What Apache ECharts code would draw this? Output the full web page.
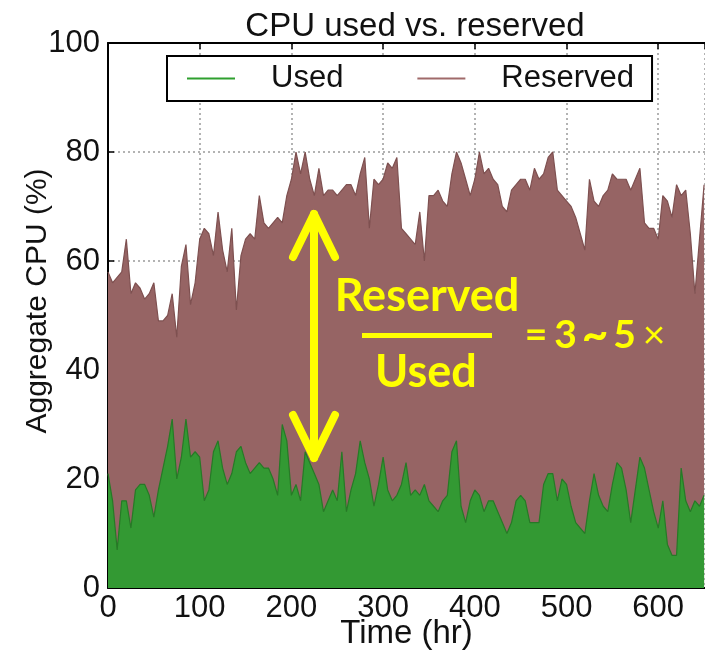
<!DOCTYPE html>
<html>
<head>
<meta charset="utf-8">
<script src="https://cdn.jsdelivr.net/npm/echarts@6/dist/echarts.min.js"></script>
<style>
  html, body { margin: 0; padding: 0; background: #fff; }
  #chart { width: 705px; height: 651px; }
</style>
</head>
<body>
<div id="chart"></div>
<script>
var hours = [
  0, 5, 10, 15, 20, 25, 30, 35, 40, 45,
  50, 55, 60, 65, 70, 75, 80, 85, 90, 95,
  100, 105, 110, 115, 120, 125, 130, 135, 140, 145,
  150, 155, 160, 165, 170, 175, 180, 185, 190, 195,
  200, 205, 210, 215, 220, 225, 230, 235, 240, 245,
  250, 255, 260, 265, 270, 275, 280, 285, 290, 295,
  300, 305, 310, 315, 320, 325, 330, 335, 340, 345,
  350, 355, 360, 365, 370, 375, 380, 385, 390, 395,
  400, 405, 410, 415, 420, 425, 430, 435, 440, 445,
  450, 455, 460, 465, 470, 475, 480, 485, 490, 495,
  500, 505, 510, 515, 520, 525, 530, 535, 540, 545,
  550, 555, 560, 565, 570, 575, 580, 585, 590, 595,
  600, 605, 610, 615, 620, 625, 630, 635, 640, 645,
  650
];
var reserved = [
  58, 56, 57, 58, 64, 54, 56, 55, 53, 54,
  56, 49, 49, 50, 54, 46, 59, 63, 52, 56,
  64, 66, 65, 61, 69, 62, 58, 66, 51, 61,
  64, 65, 64, 72, 67, 66, 67, 68, 67, 72,
  75, 80, 76, 80, 75, 72, 77, 72, 73, 73,
  72, 73, 74, 74, 72, 76, 79, 66, 75, 74,
  75, 78, 77, 79, 66, 65, 64, 63, 69, 60,
  72, 72, 73, 71, 70, 76, 80, 78, 75, 72,
  75, 80, 76, 77, 75, 74, 70, 69, 73, 74,
  75, 75, 73, 77, 75, 76, 79, 80, 73, 72,
  71, 70, 68, 65, 62, 75, 71, 70, 72, 73,
  76, 75, 75, 75, 73, 75, 77, 67, 66, 66,
  64, 72, 71, 68, 74, 72, 73, 65, 54, 64,
  74
];
var used = [
  21, 16, 7, 16, 16, 11, 18, 19, 19, 17,
  13, 18, 22, 26, 31, 20, 24, 31, 24, 25,
  24, 16, 18, 25, 27, 22, 19, 21, 25, 26,
  23, 21, 22, 23, 22, 22, 20, 17, 30, 27,
  17, 19, 16, 25, 23, 21, 19, 14, 16, 18,
  16, 25, 14, 18, 21, 27, 23, 20, 15, 19,
  24, 18, 16, 17, 19, 23, 17, 18, 17, 19,
  16, 15, 14, 16, 17, 25, 27, 15, 12, 16,
  18, 17, 14, 16, 16, 14, 12, 10, 12, 16,
  17, 16, 12, 12, 12, 19, 21, 21, 16, 20,
  19, 15, 12, 11, 10, 16, 21, 17, 15, 14,
  19, 23, 22, 18, 12, 18, 24, 22, 18, 14,
  11, 16, 8, 6, 6, 22, 16, 14, 16, 15,
  17
];
var ratioChars = ['=', '3', '~', '5', '\u00d7'];

var font = 'Liberation Sans, Arial, sans-serif';
var yellow = '#ffff00';

var chart = echarts.init(document.getElementById('chart'));

function pairs(vals) {
  return hours.map(function (h, i) { return [h, vals[i]]; });
}

var graphics = [
  // y axis name
  {
    type: 'text', x: 38, y: 301, rotation: Math.PI / 2,
    style: { text: 'Aggregate CPU (%)', font: '30px ' + font, fill: '#111', align: 'center', verticalAlign: 'middle' }
  },
  // double arrow
  {
    type: 'line', shape: { x1: 314, y1: 214, x2: 314, y2: 458 },
    style: { stroke: yellow, lineWidth: 8, lineCap: 'round' }, z: 100
  },
  {
    type: 'polyline', shape: { points: [[293, 257], [314, 214], [335, 257]] },
    style: { stroke: yellow, lineWidth: 8, lineCap: 'round', lineJoin: 'round', fill: null }, z: 100
  },
  {
    type: 'polyline', shape: { points: [[293, 415], [314, 458], [335, 415]] },
    style: { stroke: yellow, lineWidth: 8, lineCap: 'round', lineJoin: 'round', fill: null }, z: 100
  },
  {
    type: 'text', x: 427, y: 296, z: 100,
    style: { text: 'Reserved', font: 'bold 45px Lato, sans-serif', fill: yellow, align: 'center', verticalAlign: 'middle' }
  },
  {
    type: 'rect', shape: { x: 362, y: 333, width: 130, height: 5 },
    style: { fill: yellow }, z: 100
  },
  {
    type: 'text', x: 426, y: 372, z: 100,
    style: { text: 'Used', font: 'bold 45px Lato, sans-serif', fill: yellow, align: 'center', verticalAlign: 'middle' }
  }
];
ratioChars.forEach(function (c, i) {
  graphics.push({
    type: 'text', x: 536 + i * 29.5, y: 335, z: 100,
    style: {
      text: c, fill: yellow, align: 'center', verticalAlign: 'middle',
      font: (c === '\u00d7' ? '' : 'bold ') + (c === '~' ? '46px' : '39px') + ' Lato, sans-serif'
    }
  });
});

var option = {
  animation: false,
  backgroundColor: '#fff',
  title: {
    text: 'CPU used vs. reserved',
    left: 410, top: 5, textAlign: 'center',
    textStyle: { fontFamily: font, fontSize: 33, fontWeight: 'normal', color: '#111' }
  },
  legend: {
    data: [
      { name: 'Used', itemStyle: { color: '#2fa02f' } },
      { name: 'Reserved', itemStyle: { color: '#a06a6a' } }
    ],
    left: 167, top: 56,
    icon: 'rect', itemWidth: 48, itemHeight: 2, itemGap: 74,
    padding: [7, 18, 7, 20],
    backgroundColor: '#fff', borderColor: '#000', borderWidth: 2, borderRadius: 0,
    textStyle: { fontFamily: font, fontSize: 31, color: '#111', padding: [0, 0, 0, 31] },
    z: 10
  },
  grid: { left: 108, right: 0, top: 43, bottom: 63, outerBoundsMode: 'none', containLabel: false },
  xAxis: [
    {
      type: 'value', min: 0, max: 651, interval: 100,
      name: 'Time (hr)', nameLocation: 'middle', nameGap: 29, nameMoveOverlap: false,
      nameTextStyle: { fontFamily: font, fontSize: 33, color: '#111' },
      axisLine: { show: true, lineStyle: { color: '#000', width: 2 } },
      axisTick: { show: true, inside: true, length: 6, lineStyle: { color: '#000', width: 1.5 } },
      axisLabel: { fontFamily: font, fontSize: 31, color: '#111', margin: 5, showMaxLabel: false },
      splitLine: { show: true, lineStyle: { color: '#9a9a9a', width: 1.5, type: [2, 3] } }
    },
    {
      type: 'value', min: 0, max: 651, interval: 100, position: 'top',
      axisLine: { show: true, lineStyle: { color: '#000', width: 2 } },
      axisTick: { show: true, inside: true, length: 6, lineStyle: { color: '#000', width: 1.5 } },
      axisLabel: { show: false },
      splitLine: { show: false }
    }
  ],
  yAxis: {
    type: 'value', min: 0, max: 100, interval: 20,
    axisLine: { show: true, lineStyle: { color: '#000', width: 2 } },
    axisTick: { show: true, inside: true, length: 6, lineStyle: { color: '#000', width: 1.5 } },
    axisLabel: { fontFamily: font, fontSize: 31, color: '#111', margin: 8 },
    splitLine: { show: true, lineStyle: { color: '#9a9a9a', width: 1.5, type: [2, 3] } }
  },
  series: [
    {
      name: 'Reserved', type: 'line', data: pairs(reserved),
      showSymbol: false, symbol: 'none',
      itemStyle: { color: '#a06a6a' },
      lineStyle: { color: '#7e5050', width: 1.2 },
      areaStyle: { color: '#966464', opacity: 1 }
    },
    {
      name: 'Used', type: 'line', data: pairs(used),
      showSymbol: false, symbol: 'none',
      itemStyle: { color: '#2fa02f' },
      lineStyle: { color: '#267a26', width: 1.2 },
      areaStyle: { color: '#339933', opacity: 1 }
    }
  ],
  graphic: graphics
};
chart.setOption(option);
</script>
</body>
</html>
